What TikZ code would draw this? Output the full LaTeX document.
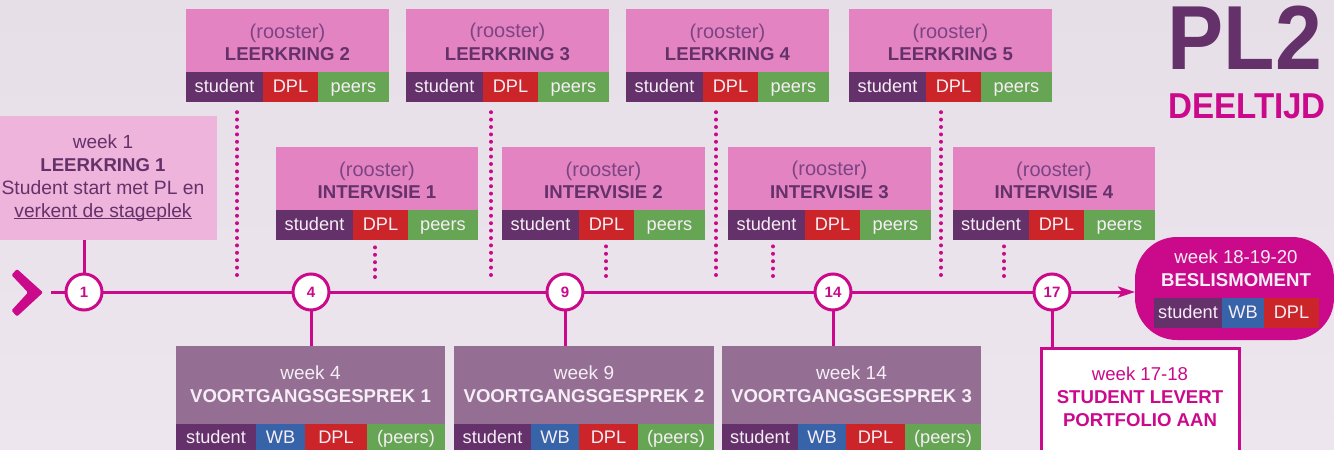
\documentclass[tikz,border=0pt]{standalone}
\usepackage{fontspec}
\setmainfont{Liberation Sans}
\usetikzlibrary{arrows.meta}
\definecolor{mag}{HTML}{CB0A8B}
\definecolor{purp}{HTML}{65316A}
\definecolor{softpurp}{HTML}{7C4483}
\definecolor{pinkbody}{HTML}{E483C2}
\definecolor{pinklight}{HTML}{EEB4DB}
\definecolor{mauve}{HTML}{946F93}
\definecolor{grn}{HTML}{66A553}
\definecolor{redd}{HTML}{CB2529}
\definecolor{blu}{HTML}{3763A8}
\definecolor{paletext}{HTML}{F6EEF6}
\definecolor{bgtop}{HTML}{E7DFE8}
\definecolor{bgbot}{HTML}{EEE6EE}
\newcommand{\fs}[1]{\fontsize{#1}{22.8}\selectfont}
\newcommand{\lowlift}[1]{\rule[-#1pt]{0pt}{#1pt}}
\tikzset{
  x=1pt,y=-1pt,
  flatbox/.style={rectangle,inner sep=0pt,outer sep=0pt,anchor=north west,align=center,font=\fs{18.6}},
  cellbox/.style={flatbox,text=paletext,text height=14pt,text depth=3.5pt,font=\fs{18.2}},
  wkcircle/.style={circle,draw=mag,line width=3pt,fill=white,minimum size=36pt,inner sep=0pt,outer sep=0pt,text=mag,font=\fs{15}\bfseries},
  tl/.style={draw=mag,line width=3pt},
  dotline/.style={draw=mag,line width=4pt,line cap=round,dash pattern=on 0pt off 7.4pt,shorten >=5pt},
}
% name, x1, x2, y1, y2, colour, text
\newcommand{\cellnode}[7]{\node[cellbox,fill=#6,minimum width={((#3)-(#2))*1pt},minimum height={((#5)-(#4))*1pt}] (#1) at (#2,#4) {#7};}
% name, x1, split1, split2, x2, y, kicker, title
\newcommand{\pinkbox}[8]{%
  \node[flatbox,fill=pinkbody,text=purp,minimum width={((#5)-(#2))*1pt},minimum height=63pt] (#1) at (#2,#6)
    {\rule{0pt}{18pt}{\color{softpurp}\fs{20}#7}\\\textbf{#8}};
  \cellnode{#1s}{#2}{#3}{#6+63}{#6+93}{purp}{student}
  \cellnode{#1d}{#3}{#4}{#6+63}{#6+93}{redd}{DPL}
  \cellnode{#1p}{#4}{#5}{#6+63}{#6+93}{grn}{peers}
}
% name, x1, s1, s2, s3, x2, y, week, title
\newcommand{\vgbox}[9]{%
  \node[flatbox,fill=mauve,text=paletext,minimum width={((#6)-(#2))*1pt},minimum height=78pt] (#1) at (#2,#7)
    {{\fs{19}#8}\\\textbf{#9}\lowlift{2}};
  \cellnode{#1s}{#2}{#3}{#7+78}{#7+106}{purp}{student}
  \cellnode{#1w}{#3}{#4}{#7+78}{#7+106}{blu}{WB}
  \cellnode{#1d}{#4}{#5}{#7+78}{#7+106}{redd}{DPL}
  \cellnode{#1p}{#5}{#6}{#7+78}{#7+106}{grn}{(peers)}
}
\begin{document}
\begin{tikzpicture}
\useasboundingbox (0,0) rectangle (1334,450);
\shade[top color=bgtop,bottom color=bgbot] (0,0) rectangle (1334,450);

% title
\node[inner sep=0pt,anchor=base,text=purp] (pl) at (1245,69.5) {\scalebox{.925}[1]{\fontsize{91}{91}\selectfont\bfseries PL2}};
\node[inner sep=0pt,anchor=base,text=mag] (deel) at (1247,118) {\scalebox{.92}[1]{\fontsize{36}{36}\selectfont\bfseries DEELTIJD}};

% rooster boxes
\pinkbox{lka}{186}{263}{318}{389}{9}{(rooster)}{LEERKRING 2}
\pinkbox{lkb}{406}{483}{538}{609}{9}{(rooster)}{LEERKRING 3}
\pinkbox{lkc}{626}{703}{758}{829}{9}{(rooster)}{LEERKRING 4}
\pinkbox{lkd}{849}{926}{981}{1052}{9}{(rooster)}{LEERKRING 5}
\pinkbox{iva}{276}{353}{408}{478}{147}{(rooster)}{INTERVISIE 1}
\pinkbox{ivb}{502}{579}{634}{705}{147}{(rooster)}{INTERVISIE 2}
\pinkbox{ivc}{728}{805}{860}{931}{147}{(rooster)}{INTERVISIE 3}
\pinkbox{ivd}{953}{1029}{1084}{1155}{147}{(rooster)}{INTERVISIE 4}

% week 1
\node[flatbox,fill=pinklight,text=purp,minimum width=228pt,minimum height=124pt] (wka) at (-11,116)
  {{\fs{19}week 1}\\\textbf{LEERKRING 1}\\{\fs{19.3}Student start met PL en}\\{\fs{19.2}\underline{\smash{verkent de stageplek}}}\lowlift{4}};

% voortgangsgesprekken
\vgbox{vga}{176}{256}{305}{367}{445}{346}{week 4}{VOORTGANGSGESPREK 1}
\vgbox{vgb}{454}{531}{579}{638}{714}{346}{week 9}{VOORTGANGSGESPREK 2}
\vgbox{vgc}{722}{798}{846}{905}{981}{346}{week 14}{VOORTGANGSGESPREK 3}

% portfolio
\node[flatbox,draw=mag,line width=3pt,fill=white,text=mag,minimum width=198pt,minimum height=104pt] (port) at (1041,348)
  {week 17-18\\\textbf{STUDENT LEVERT}\\\textbf{PORTFOLIO AAN}\lowlift{6}};

% beslismoment
\node[flatbox,fill=mag,rounded corners=42pt,minimum width=199pt,minimum height=103pt] (pill) at (1135,237) {};
\node[inner sep=0pt,align=center,text=paletext,font=\fs{18.6}] (pillt) at (1236,268.5) {week 18-19-20\\\textbf{BESLISMOMENT}};
\cellnode{bms}{1154}{1222}{298}{328}{purp}{student}
\cellnode{bmw}{1222}{1264}{298}{328}{blu}{WB}
\cellnode{bmd}{1264}{1319}{298}{328}{redd}{DPL}

% chevron
\fill[mag,rounded corners=1.2pt] (11.5,275) -- (17,269) -- (43,292.5) -- (17,316.5) -- (11.5,310.5) -- (28,292.5) -- cycle;

% timeline circles
\coordinate (start) at (51,292);
\node[wkcircle] (ca) at (84,292) {1};
\node[wkcircle] (cb) at (311,292) {4};
\node[wkcircle] (cc) at (565,292) {9};
\node[wkcircle] (cd) at (833,292) {14};
\node[wkcircle] (ce) at (1052,292) {17};

% timeline
\draw[tl] (start) -- (ca);
\draw[tl] (ca) -- (cb);
\draw[tl] (cb) -- (cc);
\draw[tl] (cc) -- (cd);
\draw[tl] (cd) -- (ce);
\draw[tl,-{Stealth[length=17pt,width=11pt,inset=4pt]}] (ce) -- (ce -| pill.west);

% solid stems
\draw[tl] (ca) -- (ca |- wka.south);
\draw[tl] (cb) -- (cb |- vga.north);
\draw[tl] (cc) -- (cc |- vgb.north);
\draw[tl] (cd) -- (cd |- vgc.north);
\draw[tl] (ce) -- (ce |- port.north);

% dotted stems
\coordinate (da) at (237,275);
\coordinate (db) at (491,275);
\coordinate (dc) at (716,275);
\coordinate (dd) at (941,275);
\coordinate (ea) at (375,277);
\coordinate (eb) at (606,276);
\coordinate (ec) at (773,276);
\coordinate (ed) at (1004,276);
\draw[dotline] (da) -- (da |- lkas.south);
\draw[dotline] (db) -- (db |- lkbs.south);
\draw[dotline] (dc) -- (dc |- lkcs.south);
\draw[dotline] (dd) -- (dd |- lkds.south);
\draw[dotline] (ea) -- (ea |- ivas.south);
\draw[dotline] (eb) -- (eb |- ivbs.south);
\draw[dotline] (ec) -- (ec |- ivcs.south);
\draw[dotline] (ed) -- (ed |- ivds.south);
\end{tikzpicture}
\end{document}
